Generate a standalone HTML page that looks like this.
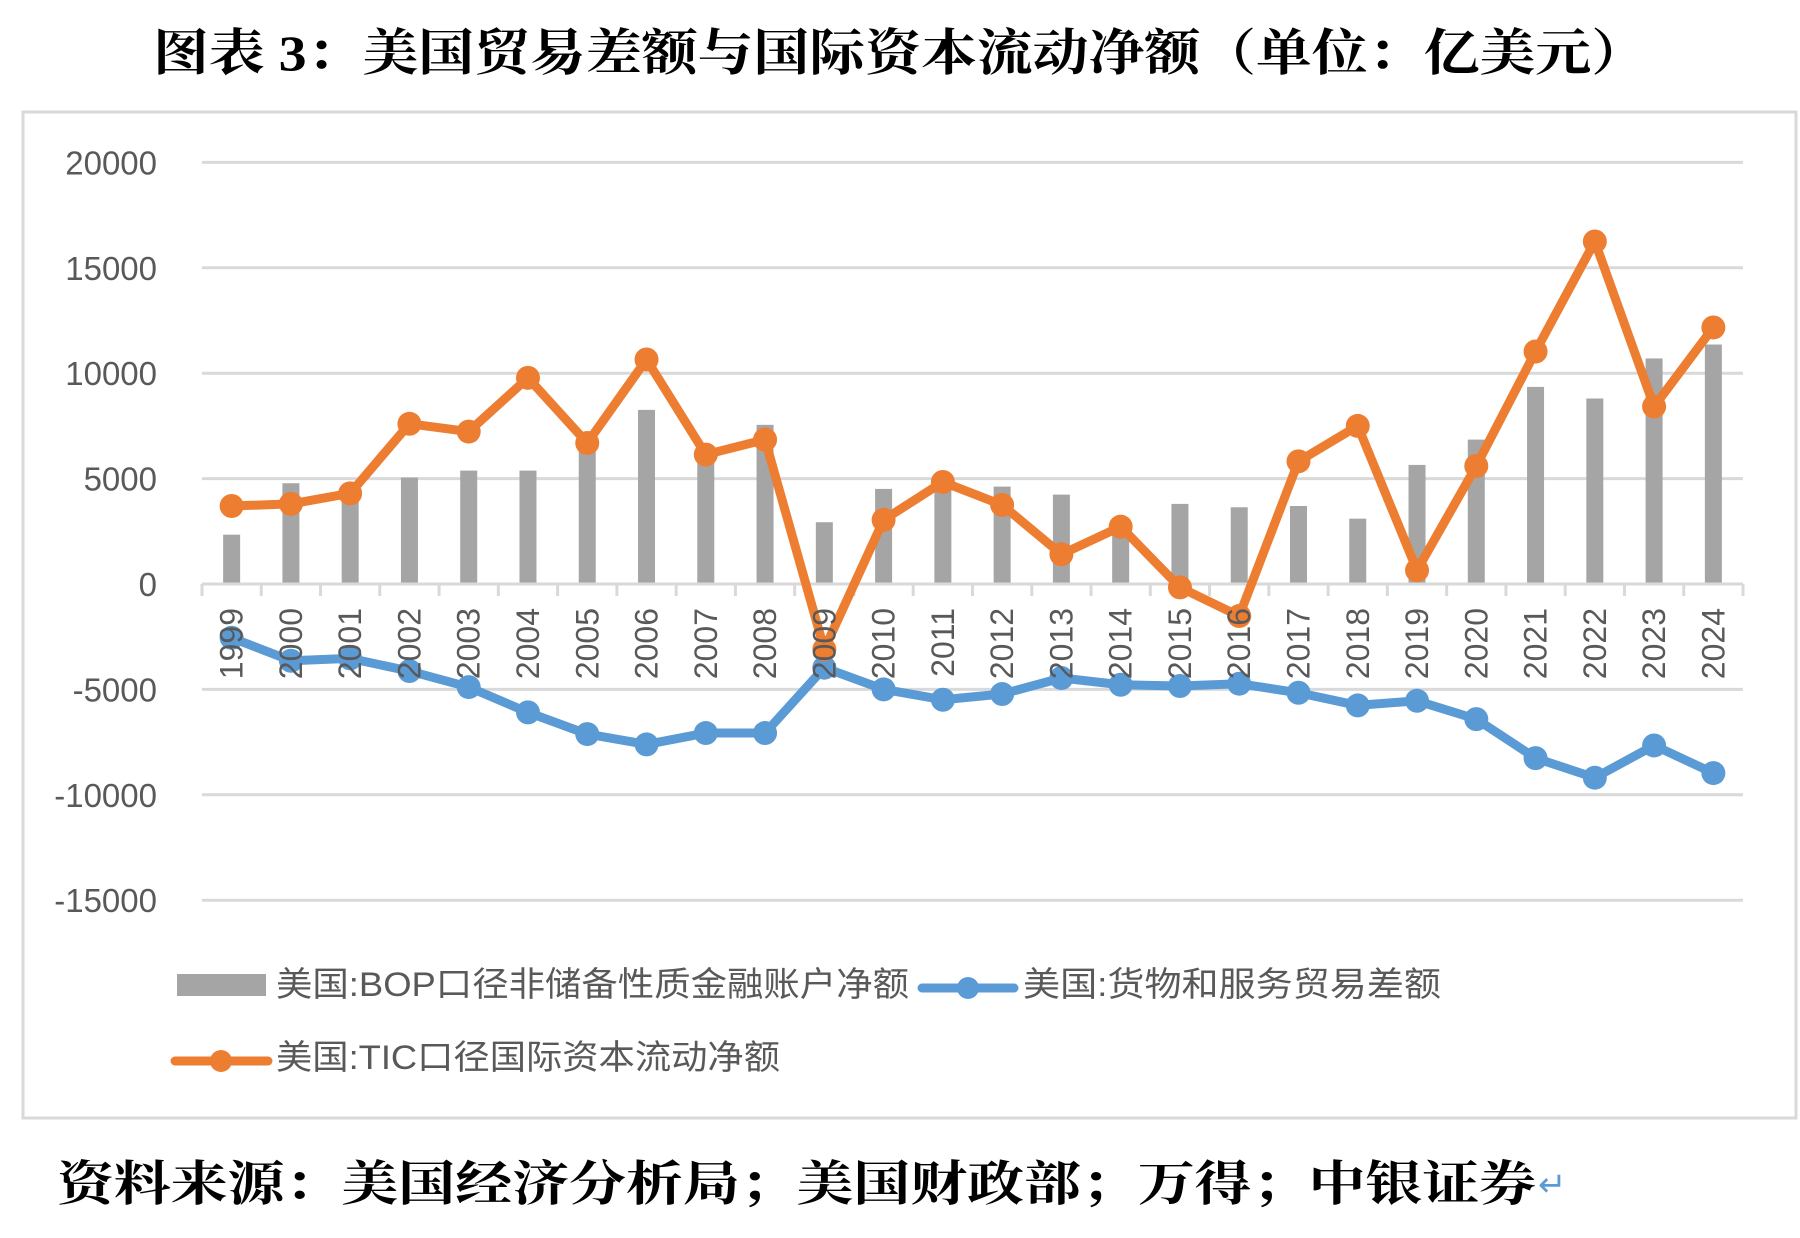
<!DOCTYPE html>
<html><head><meta charset="utf-8">
<style>
html,body{margin:0;padding:0;background:#fff;}
svg{display:block;}
</style></head>
<body>
<svg id="chart" width="1800" height="1238" viewBox="0 0 1800 1238" xmlns="http://www.w3.org/2000/svg">
  <text x="153" y="70" font-family="'Liberation Serif','Noto Serif CJK SC',serif" font-weight="bold" font-size="50" fill="#000" textLength="1494" lengthAdjust="spacingAndGlyphs">图表 3：美国贸易差额与国际资本流动净额（单位：亿美元）</text>
  <rect x="23" y="112" width="1773" height="1006" fill="#fff" stroke="#d9d9d9" stroke-width="3"/>
  <g id="grid"></g>
  <g id="yticks"></g>
  <g id="bars"></g>
  <g id="axis"></g>
  <g id="lines"></g>
  <g id="xlabels"></g>
  <g>
    <g>
      <rect x="177" y="974" width="89" height="22" fill="#a5a5a5"/>
      <text x="276" y="996" font-family="'Liberation Sans','Noto Sans CJK SC',sans-serif" font-size="34" fill="#595959" textLength="633" lengthAdjust="spacingAndGlyphs">美国:BOP口径非储备性质金融账户净额</text>
    </g>
    <g>
      <line x1="922" y1="988" x2="1014" y2="988" stroke="#5b9bd5" stroke-width="9" stroke-linecap="round"/>
      <circle cx="968" cy="988" r="11" fill="#5b9bd5"/>
      <text x="1023" y="996" font-family="'Liberation Sans','Noto Sans CJK SC',sans-serif" font-size="34" fill="#595959" textLength="418" lengthAdjust="spacingAndGlyphs">美国:货物和服务贸易差额</text>
    </g>
    <g>
      <line x1="175" y1="1061" x2="268" y2="1061" stroke="#ed7d31" stroke-width="9" stroke-linecap="round"/>
      <circle cx="221" cy="1061" r="11" fill="#ed7d31"/>
      <text x="276" y="1069" font-family="'Liberation Sans','Noto Sans CJK SC',sans-serif" font-size="34" fill="#595959" textLength="504" lengthAdjust="spacingAndGlyphs">美国:TIC口径国际资本流动净额</text>
    </g>
  </g>
  <text x="57" y="1200" font-family="'Liberation Serif','Noto Serif CJK SC',serif" font-weight="bold" font-size="48" fill="#000" textLength="1479" lengthAdjust="spacingAndGlyphs">资料来源：美国经济分析局；美国财政部；万得；中银证券</text>
  <text x="1538" y="1196" font-family="'DejaVu Sans',sans-serif" font-size="34" fill="#5b9bd5">↵</text>
</svg>
<script>
const years = ["1999","2000","2001","2002","2003","2004","2005","2006","2007","2008","2009","2010","2011","2012","2013","2014","2015","2016","2017","2018","2019","2020","2021","2022","2023","2024"];
const bopValues = [2340,4780,4100,5050,5380,5380,6470,8260,6200,7550,2930,4510,4840,4620,4240,2660,3800,3640,3700,3100,5650,6850,9350,8800,10700,11360];
const tradeValues = [-2550,-3640,-3530,-4130,-4890,-6090,-7120,-7610,-7070,-7070,-3970,-5000,-5490,-5220,-4460,-4780,-4840,-4730,-5160,-5760,-5540,-6410,-8260,-9190,-7660,-8970];
const ticValues = [3700,3800,4300,7600,7230,9780,6690,10650,6140,6850,-3100,3040,4840,3750,1410,2720,-160,-1520,5820,7500,650,5600,11030,16250,8420,12170];
const yTicks = [20000,15000,10000,5000,0,-5000,-10000,-15000];

const NS = "http://www.w3.org/2000/svg";
const plotL = 202, plotR = 1743, y0px = 584, pxPer = 105.4/5000;
const band = (plotR - plotL) / years.length;
function xPos(i){ return plotL + band*(i+0.5); }
function yPos(v){ return y0px - v*pxPer; }
function mk(tag, attrs, parent){
  const e = document.createElementNS(NS, tag);
  for (const k in attrs) e.setAttribute(k, attrs[k]);
  parent.appendChild(e);
  return e;
}
const grid = document.getElementById('grid');
const yt = document.getElementById('yticks');
yTicks.forEach(v => {
  if (v !== 0) {
    const l = mk('line', {x1: plotL, x2: plotR, y1: yPos(v), y2: yPos(v), stroke: '#d9d9d9', 'stroke-width': 3}, grid);
    
    
  }
  const t = mk('text', {x: 157, y: yPos(v) + 12, 'text-anchor': 'end', 'font-family': "'Liberation Sans',sans-serif", 'font-size': 33, fill: '#595959'}, yt);
  t.textContent = String(v);
  
  
});
const bars = document.getElementById('bars');
bopValues.forEach((v, i) => {
  const top = Math.min(yPos(v), yPos(0)), h = Math.abs(yPos(v) - yPos(0));
  const r = mk('rect', {x: xPos(i) - 8.5, y: top, width: 17, height: h, fill: '#a5a5a5'}, bars);
  
  
});
const axis = document.getElementById('axis');
const al = mk('line', {x1: plotL, x2: plotR, y1: yPos(0), y2: yPos(0), stroke: '#d9d9d9', 'stroke-width': 3}, axis);


for (let i = 0; i <= years.length; i++) {
  const x = plotL + band*i;
  const tk = mk('line', {x1: x, x2: x, y1: yPos(0), y2: yPos(0) + 12, stroke: '#d9d9d9', 'stroke-width': 3}, axis);
  
  
}
const xl = document.getElementById('xlabels');
years.forEach((y, i) => {
  const x = xPos(i) + 11, yy = 608;
  const t = mk('text', {x: x, y: yy, 'text-anchor': 'end', transform: `rotate(-90 ${x} ${yy})`, 'font-family': "'Liberation Sans',sans-serif", 'font-size': 32, fill: '#595959'}, xl);
  t.textContent = y;
  
  
});
const lines = document.getElementById('lines');
function series(vals, color, name){
  const g = mk('g', {}, lines);
  
  
  const pts = vals.map((v, i) => xPos(i) + ',' + yPos(v)).join(' ');
  mk('polyline', {points: pts, fill: 'none', stroke: color, 'stroke-width': 9, 'stroke-linejoin': 'round'}, g);
  vals.forEach((v, i) => {
    const c = mk('circle', {cx: xPos(i), cy: yPos(v), r: 12, fill: color}, g);
    
    
  });
}
series(tradeValues, '#5b9bd5', 'trade-balance-line');
series(ticValues, '#ed7d31', 'tic-flow-line');
</script>
</body></html>
